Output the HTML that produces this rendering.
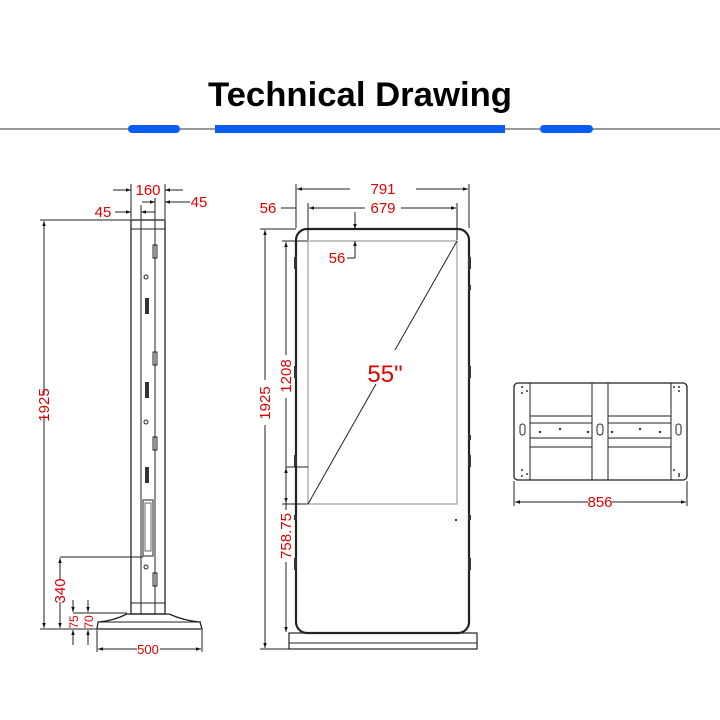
<!DOCTYPE html>
<html><head><meta charset="utf-8"><style>
html,body{margin:0;padding:0;background:#fff}
svg{display:block}
.t{font-family:"Liberation Sans",Arial,sans-serif;fill:#e00000}
</style></head><body>
<svg width="720" height="720" viewBox="0 0 720 720" xmlns="http://www.w3.org/2000/svg">
<defs>
<marker id="a" viewBox="0 0 10 10" refX="10" refY="5" markerWidth="7" markerHeight="5" orient="auto-start-reverse"><path d="M0,1.5L10,5L0,8.5z" fill="#111"/></marker>
</defs>
<rect width="720" height="720" fill="#fff"/>
<!-- header -->
<text x="360" y="106" text-anchor="middle" font-family="Liberation Sans,Arial,sans-serif" font-weight="bold" font-size="34" fill="#000" textLength="304" lengthAdjust="spacingAndGlyphs">Technical Drawing</text>
<line x1="0" y1="129" x2="720" y2="129" stroke="#777" stroke-width="1.5"/>
<rect x="128" y="125" width="52" height="8" rx="4" fill="#0a5cf5"/>
<rect x="215" y="125" width="290" height="8" fill="#0a5cf5"/>
<rect x="540" y="125" width="53" height="8" rx="4" fill="#0a5cf5"/>

<g stroke="#222" fill="none" stroke-width="1">
<!-- SIDE VIEW -->
<rect x="131" y="220" width="34" height="394" stroke-width="1.3"/>
<line x1="141" y1="220" x2="141" y2="614"/><line x1="155" y1="220" x2="155" y2="614"/>
<line x1="131" y1="229" x2="165" y2="229"/><line x1="131" y1="603" x2="165" y2="603"/>
<path d="M127,614 L169,614 Q185,621 200,622 L202,629 L97,629 L98,622 Q113,621 127,614Z" stroke-width="1.3"/>
<line x1="99" y1="622" x2="201" y2="622"/>
<!-- side details -->
<rect x="153" y="245" width="4" height="13"/><rect x="153" y="352" width="4" height="13"/><rect x="153" y="437" width="4" height="13"/><rect x="153" y="573" width="4" height="13"/>
<circle cx="146" cy="277" r="2"/><circle cx="146" cy="422" r="2"/><circle cx="146" cy="567" r="2"/>
<g fill="#333" stroke="none">
<rect x="145" y="298" width="4" height="16"/><rect x="145" y="382" width="4" height="16"/><rect x="145" y="467" width="4" height="16"/>
</g>
<rect x="143" y="500" width="10" height="56"/>
<rect x="145" y="503" width="6" height="48" stroke="#666"/>
<!-- side dims -->
<line x1="131" y1="219" x2="131" y2="184"/><line x1="165" y1="219" x2="165" y2="184"/>
<line x1="113" y1="190" x2="131" y2="190" marker-end="url(#a)"/><line x1="183" y1="190" x2="165" y2="190" marker-end="url(#a)"/>
<line x1="155" y1="219" x2="155" y2="198"/><line x1="141" y1="219" x2="141" y2="205"/>
<line x1="142" y1="202" x2="155" y2="202" marker-end="url(#a)"/><line x1="190" y1="202" x2="165" y2="202" marker-end="url(#a)"/>
<line x1="115" y1="212" x2="131" y2="212" marker-end="url(#a)"/><line x1="155" y1="212" x2="141" y2="212" marker-end="url(#a)"/>
<line x1="40" y1="220" x2="131" y2="220"/><line x1="40" y1="629" x2="97" y2="629"/>
<line x1="44" y1="221" x2="44" y2="395" marker-start="url(#a)"/><line x1="44" y1="415" x2="44" y2="628" marker-end="url(#a)"/>
<line x1="60" y1="557" x2="143" y2="557"/>
<line x1="60" y1="558" x2="60" y2="580" marker-start="url(#a)"/><line x1="60" y1="602" x2="60" y2="628" marker-end="url(#a)"/>
<line x1="73" y1="613" x2="127" y2="613"/>
<line x1="73" y1="600" x2="73" y2="612" marker-end="url(#a)"/><line x1="73" y1="645" x2="73" y2="630" marker-end="url(#a)"/>
<line x1="88" y1="600" x2="88" y2="612" marker-end="url(#a)"/><line x1="88" y1="645" x2="88" y2="630" marker-end="url(#a)"/>
<line x1="97" y1="630" x2="97" y2="652"/><line x1="202" y1="630" x2="202" y2="652"/>
<line x1="98" y1="649" x2="137" y2="649" marker-start="url(#a)"/><line x1="160" y1="649" x2="201" y2="649" marker-end="url(#a)"/>

<!-- FRONT VIEW -->
<rect x="296" y="229" width="173" height="404" rx="11" stroke-width="2.2"/>
<rect x="289" y="633" width="188" height="16" stroke-width="1.2"/>
<line x1="289" y1="643" x2="477" y2="643"/>
<rect x="308" y="241" width="149" height="263" stroke="#888"/>
<line x1="308" y1="504" x2="376" y2="384"/><line x1="395" y1="350" x2="457" y2="241"/>
<g fill="#333" stroke="none">
<rect x="294" y="257" width="3" height="12"/><rect x="294" y="366" width="3" height="12"/><rect x="294" y="455" width="3" height="12"/><rect x="294" y="558" width="3" height="12"/><rect x="294" y="515" width="3" height="5"/>
<rect x="468" y="257" width="3" height="12"/><rect x="468" y="366" width="3" height="12"/><rect x="468" y="455" width="3" height="12"/><rect x="468" y="558" width="3" height="12"/><rect x="468" y="285" width="3" height="5"/><rect x="468" y="435" width="3" height="5"/><rect x="468" y="515" width="3" height="5"/>
<rect x="455" y="519" width="2" height="2"/>
</g>
<!-- front dims -->
<line x1="296" y1="228" x2="296" y2="184"/><line x1="469" y1="228" x2="469" y2="184"/>
<line x1="297" y1="189" x2="350" y2="189" marker-start="url(#a)"/><line x1="416" y1="189" x2="468" y2="189" marker-end="url(#a)"/>
<line x1="308" y1="240" x2="308" y2="203"/><line x1="457" y1="240" x2="457" y2="203"/>
<line x1="281" y1="208" x2="296" y2="208"/>
<line x1="309" y1="208" x2="365" y2="208" marker-start="url(#a)"/><line x1="401" y1="208" x2="456" y2="208" marker-end="url(#a)"/>
<line x1="355" y1="212" x2="355" y2="229" marker-end="url(#a)"/><line x1="355" y1="258" x2="355" y2="241" marker-end="url(#a)"/>
<line x1="347" y1="258" x2="355" y2="258"/>
<line x1="260" y1="229" x2="296" y2="229"/><line x1="260" y1="649" x2="289" y2="649"/>
<line x1="265" y1="230" x2="265" y2="380" marker-start="url(#a)"/><line x1="265" y1="425" x2="265" y2="648" marker-end="url(#a)"/>
<line x1="282" y1="241" x2="308" y2="241"/><line x1="282" y1="504" x2="308" y2="504"/><line x1="286" y1="467" x2="308" y2="467"/>
<line x1="286" y1="242" x2="286" y2="355" marker-start="url(#a)"/><line x1="286" y1="398" x2="286" y2="503" marker-end="url(#a)"/>
<line x1="286" y1="468" x2="286" y2="510" marker-start="url(#a)"/><line x1="286" y1="562" x2="286" y2="632" marker-end="url(#a)"/>

<!-- BOTTOM VIEW -->
<rect x="514" y="383" width="173" height="97" rx="4" stroke-width="1.3"/>
<line x1="530" y1="383" x2="530" y2="480"/><line x1="671" y1="383" x2="671" y2="480"/>
<rect x="592" y="383" width="16" height="97"/>
<line x1="530" y1="416" x2="592" y2="416"/><line x1="608" y1="416" x2="671" y2="416"/>
<line x1="530" y1="423" x2="592" y2="423"/><line x1="608" y1="423" x2="671" y2="423"/>
<line x1="530" y1="438" x2="592" y2="438"/><line x1="608" y1="438" x2="671" y2="438"/>
<line x1="530" y1="447" x2="592" y2="447"/><line x1="608" y1="447" x2="671" y2="447"/>
<rect x="520" y="424" width="5" height="11" rx="2.5"/><rect x="597" y="424" width="6" height="11" rx="3"/><rect x="676" y="424" width="5" height="11" rx="2.5"/>
<g fill="#333" stroke="none">
<circle cx="540" cy="432" r="1.2"/><circle cx="560" cy="429" r="1.2"/><circle cx="588" cy="432" r="1.2"/>
<circle cx="612" cy="432" r="1.2"/><circle cx="640" cy="429" r="1.2"/><circle cx="660" cy="432" r="1.2"/>
<circle cx="522" cy="387" r="1"/><circle cx="527" cy="391" r="1"/><circle cx="522" cy="393" r="1"/>
<circle cx="674" cy="387" r="1"/><circle cx="679" cy="391" r="1"/><circle cx="679" cy="387" r="1"/>
<circle cx="522" cy="470" r="1"/><circle cx="527" cy="474" r="1"/><circle cx="522" cy="476" r="1"/>
<circle cx="674" cy="470" r="1"/><circle cx="679" cy="474" r="1"/><circle cx="679" cy="476" r="1"/>
</g>
<line x1="514" y1="481" x2="514" y2="506"/><line x1="687" y1="481" x2="687" y2="506"/>
<line x1="515" y1="502" x2="588" y2="502" marker-start="url(#a)"/><line x1="612" y1="502" x2="686" y2="502" marker-end="url(#a)"/>
</g>

<!-- labels -->
<g class="t" font-size="14">
<text x="148" y="195" text-anchor="middle" font-size="15">160</text>
<text x="199" y="207" text-anchor="middle" font-size="15">45</text>
<text x="103" y="217" text-anchor="middle" font-size="15">45</text>
<text transform="translate(49,405) rotate(-90)" text-anchor="middle" font-size="15">1925</text>
<text transform="translate(65,591) rotate(-90)" text-anchor="middle" font-size="15">340</text>
<text transform="translate(78,622) rotate(-90)" text-anchor="middle" font-size="12">75</text>
<text transform="translate(93,622) rotate(-90)" text-anchor="middle" font-size="12">70</text>
<text x="148" y="654" text-anchor="middle" font-size="13">500</text>
<text x="383" y="194" text-anchor="middle" font-size="15">791</text>
<text x="383" y="213" text-anchor="middle" font-size="15">679</text>
<text x="268" y="213" text-anchor="middle" font-size="15">56</text>
<text x="337" y="263" text-anchor="middle" font-size="15">56</text>
<text x="385" y="382" text-anchor="middle" font-size="24">55"</text>
<text transform="translate(270,403) rotate(-90)" text-anchor="middle" font-size="15">1925</text>
<text transform="translate(291,376) rotate(-90)" text-anchor="middle" font-size="15">1208</text>
<text transform="translate(291,536) rotate(-90)" text-anchor="middle" font-size="15">758.75</text>
<text x="600" y="507" text-anchor="middle" font-size="15">856</text>
</g>
</svg>
</body></html>
